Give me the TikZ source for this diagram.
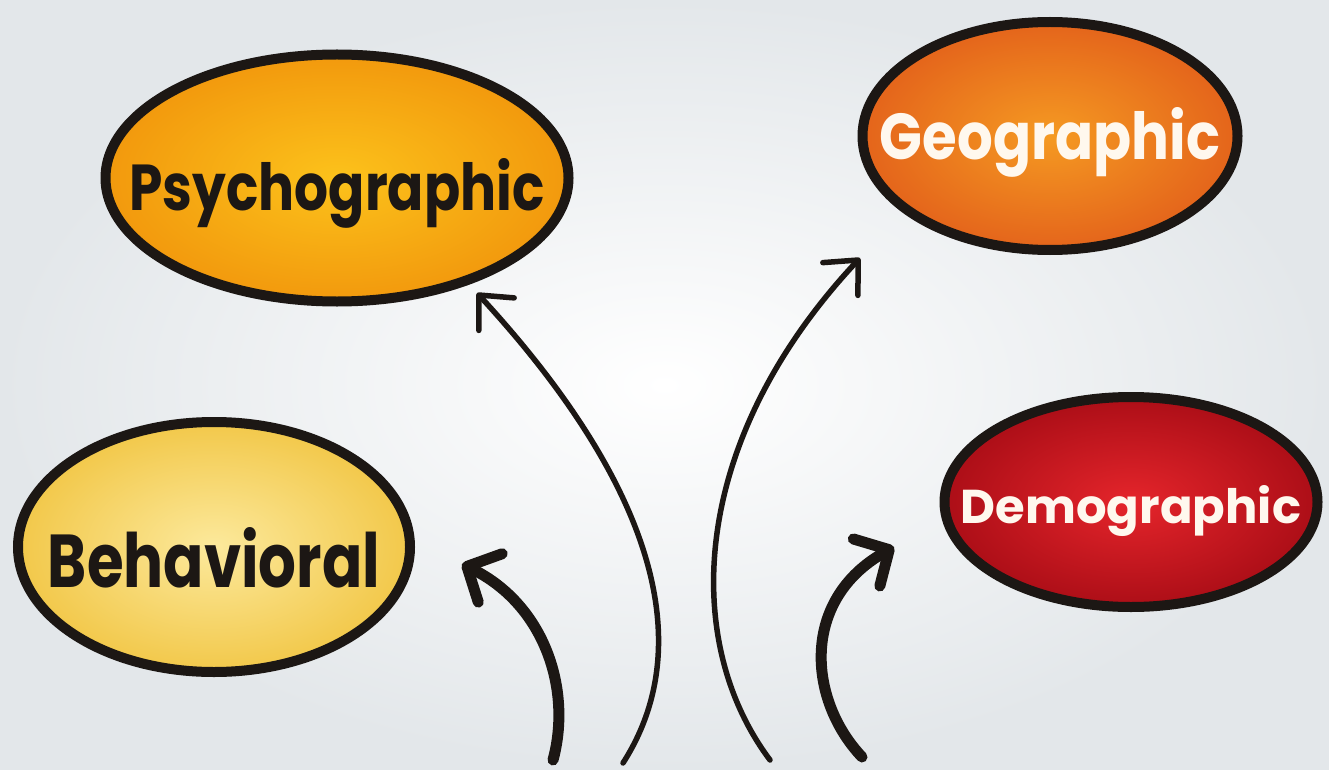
\documentclass[tikz,border=0pt]{standalone}
\usepackage{fontspec}
\setmainfont{Poppins}
\usetikzlibrary{shapes.geometric,arrows.meta}

\definecolor{bggray}{HTML}{E3E7EA}
\definecolor{inkdark}{HTML}{1C1714}
\definecolor{inklight}{HTML}{FFF8EE}
\definecolor{psyin}{HTML}{FCC21B}
\definecolor{psyout}{HTML}{F2990D}
\definecolor{geoin}{HTML}{F59A22}
\definecolor{geoout}{HTML}{E4641B}
\definecolor{behin}{HTML}{FCE99C}
\definecolor{behout}{HTML}{F2C84A}
\definecolor{demin}{HTML}{E5252B}
\definecolor{demout}{HTML}{AC0E17}

\newcommand\seglabel[3]{\makebox[0pt]{\resizebox{#1}{#2}{#3}}}

\begin{document}
\begin{tikzpicture}[x=1pt, y=-1pt,
  bubble/.style={ellipse, draw=inkdark, line width=10pt, inner sep=0pt,
    text depth=0pt, font=\bfseries},
  thinarrow/.style={draw=inkdark, line width=5.5pt, line cap=round,
    -{Straight Barb[round, length=26pt, width=48pt, line width=5.5pt]}},
  thickarrow/.style={draw=inkdark, line width=11pt, line cap=round,
    -{Straight Barb[round, length=26pt, width=54pt, line width=11pt]}}]

  \useasboundingbox (0,0) rectangle (1329,770);
  \shade[inner color=white, outer color=bggray] (0,0) rectangle (1329,770);

  %% the four segments
  \node[bubble, minimum width=463pt, minimum height=247pt, text height=64pt,
    inner color=psyin, outer color=psyout, text=inkdark]
    (psycho) at (337,178) {\seglabel{415pt}{52pt}{Psychographic}};
  \node[bubble, minimum width=375pt, minimum height=228pt, text height=48pt,
    inner color=geoin, outer color=geoout, text=inklight]
    (geo) at (1050,136) {\seglabel{340pt}{52pt}{Geographic}};
  \node[bubble, minimum width=392pt, minimum height=250pt, text height=80pt,
    inner color=behin, outer color=behout, text=inkdark]
    (behav) at (214,547) {\seglabel{332pt}{60pt}{Behavioral}};
  \node[bubble, minimum width=373pt, minimum height=210pt, text height=42pt,
    inner color=demin, outer color=demout, text=inklight]
    (demo) at (1131,502) {\seglabel{340pt}{38pt}{Demographic}};

  %% arrow ends
  \coordinate (s1) at (553,760);
  \coordinate (s2) at (623,763);
  \coordinate (s3) at (770,760);
  \coordinate (s4) at (862,757);
  \coordinate (t1) at (462,564);
  \coordinate (t2) at (477,293);
  \coordinate (t3) at (860,258);
  \coordinate (t4) at (894,547);

  \draw[thickarrow] (s1) .. controls (572,690) and (545,605) .. (t1); %% to behavioral
  \draw[thinarrow] (s2) .. controls (705,635) and (640,470) .. (t2); %% to psychographic
  \draw[thinarrow] (s3) .. controls (680,640) and (690,440) .. (t3); %% to geographic
  \draw[thickarrow] (s4) .. controls (808,700) and (800,600) .. (t4); %% to demographic
\end{tikzpicture}
\end{document}
